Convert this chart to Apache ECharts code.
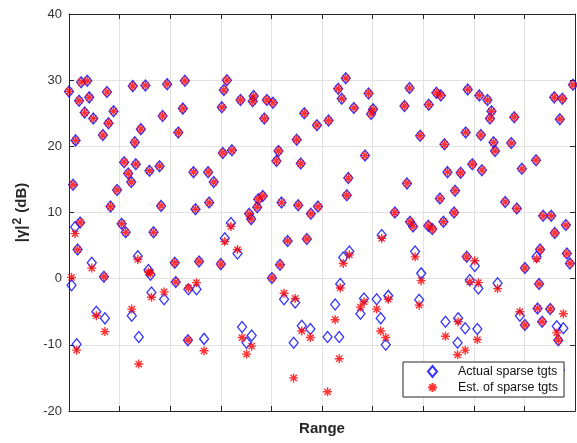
<!DOCTYPE html>
<html><head><meta charset="utf-8">
<script src="https://cdn.jsdelivr.net/npm/echarts@6/dist/echarts.min.js"></script>
<style>html,body{margin:0;padding:0;background:#fff}#c{width:577px;height:443px}</style>
</head><body><div id="c"></div>
<script>
// Range position of each sparse target (axis 0..10, no tick labels)
const rangePos = [
0.00,0.24,0.36,0.20,0.40,0.75,0.31,0.48,0.88,0.78,0.67,0.13,1.26,1.51,1.94,2.29,2.25,1.85,1.42,1.30,
2.16,1.09,1.32,1.17,1.23,1.59,1.79,0.08,0.95,0.82,1.82,3.12,3.06,3.02,3.39,3.65,3.63,3.91,4.03,3.86,
4.65,4.90,4.50,3.04,3.22,4.14,4.10,4.58,2.46,2.75,2.86,2.50,2.77,3.74,3.83,3.72,4.20,4.53,4.78,4.92,
3.56,3.60,5.47,5.32,5.39,5.63,5.92,6.01,5.97,5.13,6.73,6.63,7.11,7.26,7.35,6.94,7.42,5.85,5.52,5.49,
6.68,7.48,7.33,6.44,7.88,8.11,8.27,8.35,8.32,8.80,7.84,8.14,8.39,8.42,8.74,9.59,9.75,9.96,9.70,9.23,
8.95,7.97,8.16,7.74,7.63,8.62,8.85,7.61,9.37,9.53,
0.22,0.12,0.17,0.45,0.69,0.05,0.54,0.71,0.15,1.04,1.12,1.36,1.57,1.61,1.67,1.24,1.38,1.63,1.88,2.09,
2.11,2.36,2.35,3.20,3.08,3.33,2.57,3.00,2.52,2.67,3.42,3.61,3.51,4.32,4.70,4.17,4.01,4.25,4.47,4.60,
4.77,4.44,6.74,6.80,7.10,7.18,7.40,6.18,5.54,5.42,6.84,6.96,5.36,5.26,5.11,5.34,5.83,5.76,6.08,6.16,
6.26,6.31,6.92,7.44,9.82,9.60,7.86,8.02,9.31,9.24,9.01,9.84,9.90,7.92,8.09,8.47,9.29,7.69,7.83,8.07,
7.68,8.91,9.01,9.26,9.51,9.35,9.77,9.64,9.67,9.70
];
// |gamma|^2 of the actual targets (dB)
const actualDb = [
28.3,29.7,29.9,26.9,27.4,28.2,25.1,24.2,25.3,23.5,21.7,20.9,29.1,29.2,29.4,29.9,25.7,24.6,22.6,20.6,
22.1,17.6,17.3,15.9,14.6,16.3,17.0,14.2,13.4,10.9,11.0,30.0,28.5,25.9,27.0,27.6,26.8,27.0,26.6,24.2,
25.0,23.2,21.0,19.0,19.4,19.3,17.8,17.4,16.1,16.1,14.6,10.5,11.5,12.0,12.5,10.8,11.5,11.1,9.8,10.9,
9.8,9.0,30.3,28.7,27.2,25.8,28.0,25.6,24.9,23.9,28.8,26.1,26.3,28.1,27.7,21.6,20.3,18.6,15.2,12.6,
14.4,16.1,12.1,10.0,28.6,27.7,27.0,25.3,24.2,24.4,22.1,21.7,20.6,19.3,20.5,27.4,27.2,29.3,24.1,17.9,
16.6,17.3,16.4,16.0,13.3,11.6,10.6,10.0,9.5,9.5,
8.5,7.8,4.4,2.4,0.3,-1.0,-5.0,-6.0,-9.9,8.3,7.0,3.4,1.3,0.6,7.0,-5.6,-8.8,-2.1,-3.1,2.4,
-0.5,-1.6,-9.3,8.4,6.1,3.8,2.6,2.2,-1.6,-9.1,-7.3,-8.6,-9.7,5.7,6.0,2.1,0.1,-3.1,-3.6,-7.1,
-7.6,-9.7,8.6,7.9,8.0,7.5,8.6,6.6,4.1,3.2,4.1,0.8,-0.8,-3.9,-8.8,-8.8,-3.0,-5.3,-3.1,-6.0,
-10.0,-2.6,-3.2,-6.5,8.1,6.9,3.3,1.9,4.4,3.3,1.6,3.8,2.3,-0.2,-1.5,-0.7,-0.8,-6.0,-7.5,-7.6,
-9.7,-5.6,-7.0,-4.5,-4.6,-6.5,-7.5,-7.2,-9.3,-13.8
];
// estimated |gamma|^2 of the sparse targets (dB)
const estDb = [
28.3,29.7,29.9,26.9,27.4,28.2,25.1,24.2,25.3,23.5,21.7,20.9,29.1,29.2,29.4,29.9,25.7,24.6,22.6,20.6,
22.1,17.6,17.3,15.9,14.6,16.3,17.0,14.2,13.4,10.9,11.0,30.0,28.5,25.9,27.0,27.6,26.8,27.0,26.6,24.2,
25.0,23.2,21.0,19.0,19.4,19.3,17.8,17.4,16.1,16.1,14.6,10.5,11.5,12.0,12.5,10.8,11.5,11.1,9.8,10.9,
9.8,9.0,30.3,28.7,27.2,25.8,28.0,25.6,24.9,23.9,28.8,26.1,26.3,28.1,27.7,21.6,20.3,18.6,15.2,12.6,
14.4,16.1,12.1,10.0,28.6,27.7,27.0,25.3,24.2,24.4,22.1,21.7,20.6,19.3,20.5,27.4,27.2,29.3,24.1,17.9,
16.6,17.3,16.4,16.0,13.3,11.6,10.6,10.0,9.5,9.5,
8.5,6.8,4.4,1.6,0.3,0.2,-5.6,-8.0,-10.8,8.3,7.0,2.9,1.0,0.8,7.0,-4.6,-12.9,-2.8,-2.0,2.4,
-0.5,-1.4,-9.3,7.9,5.6,4.4,2.6,2.2,-0.6,-10.9,-8.9,-10.2,-11.4,5.7,6.0,2.1,0.1,-2.2,-3.0,-7.9,
-8.9,-15.0,8.6,7.9,8.0,7.5,8.6,6.1,3.6,2.3,3.3,-0.3,-1.4,-6.2,-17.1,-12.1,-3.5,-4.3,-4.6,-7.9,
-8.9,-3.1,-4.0,-8.7,8.1,6.9,3.3,2.7,4.4,3.0,1.6,3.8,2.3,-0.5,-0.6,-1.5,-0.8,-6.5,-10.8,-9.2,
-11.5,-5.0,-7.0,-4.5,-4.6,-6.5,-5.3,-8.2,-9.3,-14.2
];
const seriesNames = ['Actual sparse tgts', 'Est. of sparse tgts'];
const xLabel = 'Range';
const yLabel = '|\u03b3|{sup|2} (dB)';

const axisColor = '#262626';
const gridColor = '#e2e2e2';
const font = '"Liberation Sans", Arial, Helvetica, sans-serif';
const starPath = 'path://M0,-10L0,10M-10,0L10,0M-7,-7L7,7M-7,7L7,-7';

const actualData = rangePos.map((x, i) => [x, actualDb[i]]);
const estData = rangePos.map((x, i) => [x, estDb[i]]);

const chart = echarts.init(document.getElementById('c'), null, {renderer: 'canvas'});
const xBase = {type: 'value', min: 0, max: 10, interval: 1,
  axisLine: {show: true, onZero: false, lineStyle: {color: axisColor, width: 1}},
  axisTick: {show: true, inside: true, length: 5, lineStyle: {color: axisColor}},
  axisLabel: {show: false}};
const yBase = {type: 'value', min: -20, max: 40, interval: 10,
  axisLine: {show: true, onZero: false, lineStyle: {color: axisColor, width: 1}},
  axisTick: {show: true, inside: true, length: 5, lineStyle: {color: axisColor}}};

chart.setOption({
  animation: false,
  backgroundColor: '#fff',
  grid: {left: 69, right: 2, top: 14, bottom: 32},
  xAxis: [
    Object.assign({}, xBase, {position: 'bottom',
      splitLine: {show: true, lineStyle: {color: gridColor}},
      name: xLabel, nameLocation: 'middle', nameGap: 10,
      nameTextStyle: {fontFamily: font, fontWeight: 'bold', fontSize: 15, color: axisColor}}),
    Object.assign({}, xBase, {position: 'top', splitLine: {show: false}})
  ],
  yAxis: [
    Object.assign({}, yBase, {position: 'left',
      splitLine: {show: true, lineStyle: {color: gridColor}},
      axisLabel: {show: true, margin: 7, fontFamily: font, fontSize: 13, color: '#333'},
      name: yLabel, nameLocation: 'middle', nameGap: 38, nameRotate: 90,
      nameTextStyle: {fontFamily: font, fontWeight: 'bold', fontSize: 15, color: axisColor,
        rich: {sup: {fontFamily: font, fontWeight: 'bold', fontSize: 12, color: axisColor, padding: [0, 1, 7, 1]}}}}),
    Object.assign({}, yBase, {position: 'right', splitLine: {show: false}, axisLabel: {show: false}})
  ],
  legend: {
    data: seriesNames, orient: 'vertical', left: 403, top: 362,
    backgroundColor: '#fff', borderColor: axisColor, borderWidth: 1, borderRadius: 0,
    padding: [3, 6, 3, 24], itemGap: 3, itemWidth: 9, itemHeight: 11,
    textStyle: {fontFamily: font, fontSize: 12.5, color: '#111', padding: [0, 0, 0, 16]}
  },
  series: [
    {name: seriesNames[0], type: 'scatter', data: actualData, symbol: 'diamond', symbolSize: [9, 11],
     itemStyle: {color: 'rgba(0,0,0,0)', borderColor: '#0000ff', borderWidth: 1.3}, z: 2},
    {name: seriesNames[1], type: 'scatter', data: estData, symbol: starPath, symbolSize: 9,
     itemStyle: {color: 'rgba(0,0,0,0)', borderColor: '#ff0000', borderWidth: 1.4}, z: 3}
  ]
});
</script></body></html>
